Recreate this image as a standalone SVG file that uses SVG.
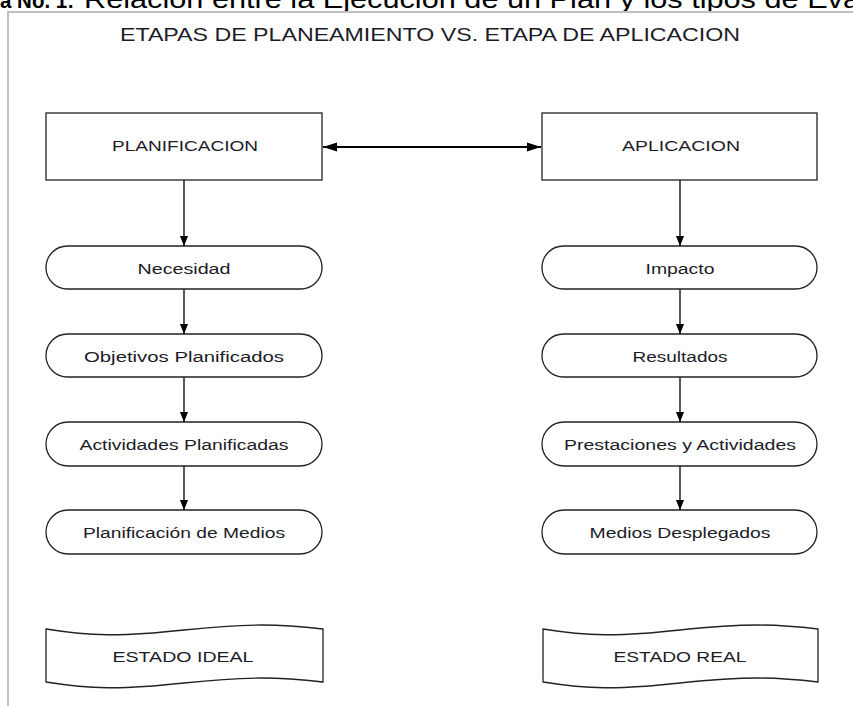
<svg xmlns="http://www.w3.org/2000/svg" width="853" height="706" viewBox="0 0 853 706">
<style>
.node{fill:#fff;stroke:#222;stroke-width:1.3}
.lbl{font-family:"Liberation Sans",Arial,sans-serif;font-size:15.5px;fill:#1c1c28;text-anchor:middle;dominant-baseline:central}
.conn{stroke:#000;stroke-width:1.3;fill:none}
.frame{stroke:#c0c0c0;stroke-width:2;fill:none}
.cap{font-family:"Liberation Sans",Arial,sans-serif;font-size:25px;fill:#000}
</style>
<defs>
<marker id="ah" viewBox="0 0 10 10" refX="10" refY="5" markerWidth="10" markerHeight="10" markerUnits="userSpaceOnUse" orient="auto">
<path d="M0,1 L10,5 L0,9 Z" fill="#000"/>
</marker>
<marker id="ahb" viewBox="0 0 14 10" refX="14" refY="5" markerWidth="15" markerHeight="10" markerUnits="userSpaceOnUse" orient="auto-start-reverse">
<path d="M0,0.5 L14,5 L0,9.5 Z" fill="#000"/>
</marker>
</defs>
<rect width="853" height="706" fill="#fff"/>
<text class="cap" x="0" y="8" font-weight="bold" style="font-size:22px" textLength="74" lengthAdjust="spacingAndGlyphs">a No. 1:</text>
<text class="cap" x="84" y="8" textLength="776" lengthAdjust="spacingAndGlyphs">Relación entre la Ejecución de un Plan y los tipos de Eva</text>
<path class="frame" d="M8,706 V12 H853"/>
<text class="lbl" x="430" y="35" style="font-size:18px" textLength="620" lengthAdjust="spacingAndGlyphs">ETAPAS DE PLANEAMIENTO VS. ETAPA DE APLICACION</text>

<g id="connectors">
<line class="conn" x1="323" y1="147" x2="541" y2="147" style="stroke-width:2" marker-start="url(#ahb)" marker-end="url(#ahb)"/>
<line class="conn" x1="184" y1="180" x2="184" y2="246" marker-end="url(#ah)"/>
<line class="conn" x1="184" y1="289" x2="184" y2="334" marker-end="url(#ah)"/>
<line class="conn" x1="184" y1="377" x2="184" y2="422" marker-end="url(#ah)"/>
<line class="conn" x1="184" y1="466" x2="184" y2="510" marker-end="url(#ah)"/>
<line class="conn" x1="680" y1="180" x2="680" y2="246" marker-end="url(#ah)"/>
<line class="conn" x1="680" y1="289" x2="680" y2="334" marker-end="url(#ah)"/>
<line class="conn" x1="680" y1="377" x2="680" y2="422" marker-end="url(#ah)"/>
<line class="conn" x1="680" y1="466" x2="680" y2="510" marker-end="url(#ah)"/>
</g>

<g id="planificacion"><rect class="node" x="46" y="113" width="276" height="67"/><text class="lbl" x="185" y="145" textLength="146" lengthAdjust="spacingAndGlyphs">PLANIFICACION</text></g>
<g id="aplicacion"><rect class="node" x="542" y="113" width="275" height="67"/><text class="lbl" x="681" y="145" textLength="118" lengthAdjust="spacingAndGlyphs">APLICACION</text></g>

<g id="necesidad"><rect class="node" x="46" y="246" width="276" height="43" rx="21.5"/><text class="lbl" x="184" y="268" textLength="93" lengthAdjust="spacingAndGlyphs">Necesidad</text></g>
<g id="objetivos"><rect class="node" x="46" y="334" width="276" height="43" rx="21.5"/><text class="lbl" x="184" y="356" textLength="200" lengthAdjust="spacingAndGlyphs">Objetivos Planificados</text></g>
<g id="actividades"><rect class="node" x="46" y="422" width="276" height="44" rx="22"/><text class="lbl" x="184" y="444" textLength="209" lengthAdjust="spacingAndGlyphs">Actividades Planificadas</text></g>
<g id="medios-plan"><rect class="node" x="46" y="510" width="276" height="44" rx="22"/><text class="lbl" x="184" y="532" textLength="202" lengthAdjust="spacingAndGlyphs">Planificación de Medios</text></g>

<g id="impacto"><rect class="node" x="542" y="246" width="275" height="43" rx="21.5"/><text class="lbl" x="680" y="268" textLength="69" lengthAdjust="spacingAndGlyphs">Impacto</text></g>
<g id="resultados"><rect class="node" x="542" y="334" width="275" height="43" rx="21.5"/><text class="lbl" x="680" y="356" textLength="95" lengthAdjust="spacingAndGlyphs">Resultados</text></g>
<g id="prestaciones"><rect class="node" x="542" y="422" width="275" height="44" rx="22"/><text class="lbl" x="680" y="444" textLength="232" lengthAdjust="spacingAndGlyphs">Prestaciones y Actividades</text></g>
<g id="medios-despl"><rect class="node" x="542" y="510" width="275" height="44" rx="22"/><text class="lbl" x="680" y="532" textLength="181" lengthAdjust="spacingAndGlyphs">Medios Desplegados</text></g>

<g id="estado-ideal"><path class="node" d="M46,629 C90,636 120,637 184,630 C250,623 280,624 323,629 V682 C280,677 250,676 184,683 C120,690 90,689 46,682 Z"/><text class="lbl" x="183" y="656" textLength="141" lengthAdjust="spacingAndGlyphs">ESTADO IDEAL</text></g>
<g id="estado-real"><path class="node" d="M543,629 C587,636 617,637 680,630 C746,623 776,624 818,629 V682 C776,677 746,676 680,683 C617,690 587,689 543,682 Z"/><text class="lbl" x="680" y="656" textLength="133" lengthAdjust="spacingAndGlyphs">ESTADO REAL</text></g>
</svg>
